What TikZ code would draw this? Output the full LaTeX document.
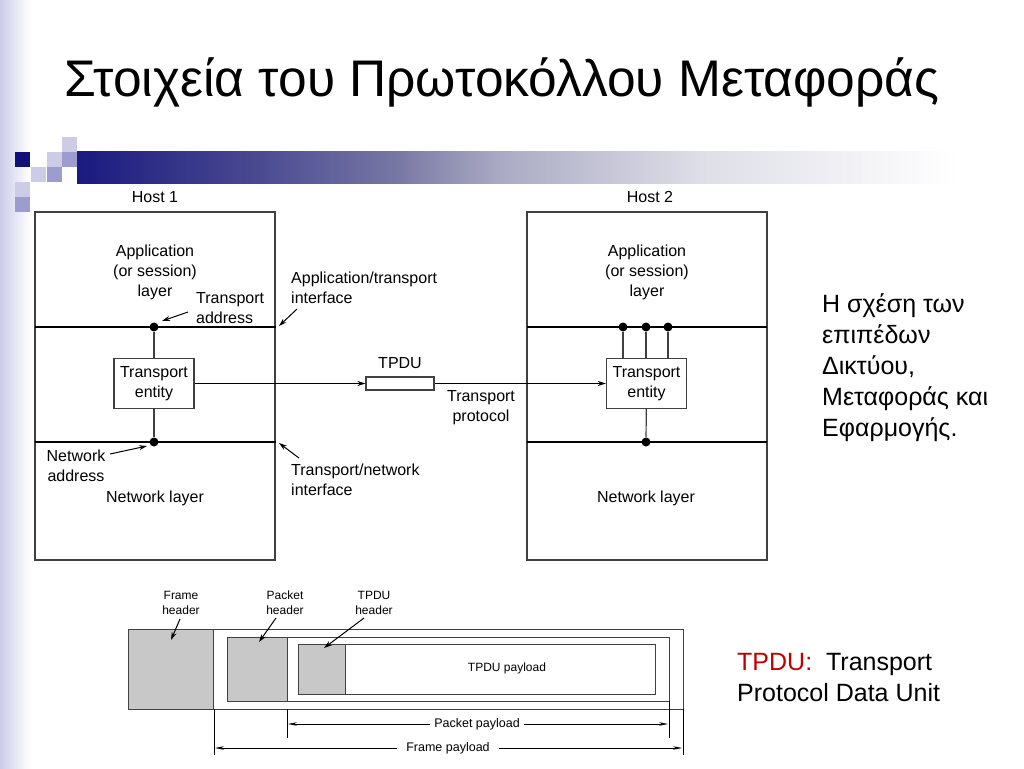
\documentclass[tikz,border=0pt]{standalone}
\usepackage{fontspec}
\setmainfont{Liberation Sans}
\usepackage{tikz}
\usetikzlibrary{arrows.meta,positioning}
\definecolor{stripblue}{RGB}{204,204,232}
\definecolor{bandnavy}{RGB}{26,26,128}
\definecolor{bandA}{RGB}{72,72,145}
\definecolor{bandB}{RGB}{120,120,165}
\definecolor{bandC}{RGB}{170,170,195}
\definecolor{bandD}{RGB}{222,222,232}
\definecolor{sqdark}{RGB}{16,16,122}
\definecolor{sqlight}{RGB}{204,204,230}
\definecolor{sqmid}{RGB}{156,156,206}
\definecolor{linegray}{RGB}{64,64,64}
\definecolor{hdrgray}{RGB}{200,200,200}
\definecolor{tpdured}{RGB}{192,0,0}
\pgfdeclarehorizontalshading{bandshade}{100bp}{color(0bp)=(bandnavy); color(25bp)=(bandnavy);
  color(34.5bp)=(bandA); color(42.5bp)=(bandB); color(48bp)=(bandC); color(59bp)=(bandD);
  color(73bp)=(white); color(100bp)=(white)}
\tikzset{
  titletext/.style = {font=\fontsize{51.5}{60}\selectfont, inner sep=0pt},
  labeltext/.style = {font=\fontsize{16}{20}\selectfont, align=center, inner sep=0pt},
  smalltext/.style = {font=\fontsize{12}{15}\selectfont, align=center, inner sep=0pt},
  notetext/.style = {font=\fontsize{25}{31}\selectfont, align=left, inner sep=0pt},
  hostbox/.style = {draw=linegray, line width=1.4pt},
  layerline/.style = {draw=black, line width=1.3pt},
  entitybox/.style = {draw=linegray, line width=1.2pt, fill=white, minimum width=80pt, minimum height=50pt, inner sep=0pt, align=center, font=\fontsize{16}{20}\selectfont},
  pdubox/.style = {draw=linegray, line width=1.1pt, fill=white, minimum width=68pt, minimum height=13pt, inner sep=0pt},
  sap/.style = {circle, fill=black, inner sep=0pt, minimum size=9pt},
  link/.style = {draw=linegray, line width=1.2pt},
  pointer/.style = {-{Stealth[length=8pt,width=5pt]}, line width=1pt},
  hdrbox/.style = {draw=linegray, fill=hdrgray, line width=0.9pt},
  framebox/.style = {draw=linegray, line width=0.9pt},
  dimline/.style = {{Stealth[length=9pt,width=3.5pt]}-{Stealth[length=9pt,width=3.5pt]}, line width=0.7pt},
  dimtick/.style = {line width=0.7pt},
}
\begin{document}
\begin{tikzpicture}[x=1pt,y=-1pt]
\useasboundingbox (0,0) rectangle (1024,768);

% Slide decoration
\shade[left color=stripblue, right color=white] (0,0) rectangle (30,768);
\shade[shading=bandshade] (77,151) rectangle (995,183);
\foreach \x/\y/\c in {15/152/sqdark, 62/137/sqlight, 47/152/sqlight, 62/152/sqmid,
                      31/167/sqlight, 47/167/sqmid, 15/182/sqlight, 15/197/sqmid}
  \fill[\c] (\x,\y) rectangle ++(15,15);
\node[titletext, anchor=base west] (title) at (64,96) {Στοιχεία του Πρωτοκόλλου Μεταφοράς};

% Host 1
\begin{scope}
  \node[labeltext] (host1) at (155,197) {Host 1};
  \draw[hostbox] (35,212) rectangle (275,560);
  \draw[layerline] (35,327) -- (276,327);
  \draw[layerline] (35,442) -- (276,442);
  \node[labeltext] (app1) at (155,272) {Application\\(or session)\\layer};
  \node[sap] (tsap1) at (154,327) {};
  \node[entitybox] (ent1) at (154,383.5) {Transport\\entity};
  \node[sap] (nsap1) at (154,442) {};
  \draw[link] (tsap1) -- (ent1);
  \draw[link] (ent1) -- (nsap1);
  \node[labeltext, align=left, anchor=west] (taddr) at (196,308) {Transport\\address};
  \coordinate (taddrtail) at (188,312);
  \coordinate (taddrtip) at (162,321);
  \draw[pointer] (taddrtail) -- (taddrtip);
  \node[labeltext] (naddr) at (76,465.5) {Network\\address};
  \coordinate (naddrtail) at (110,454);
  \coordinate (naddrtip) at (147,446);
  \draw[pointer] (naddrtail) -- (naddrtip);
  \node[labeltext] (net1) at (155,498) {Network layer};
\end{scope}

% Interfaces
\node[labeltext, align=left, anchor=west] (atif) at (291,287.5) {Application/transport\\interface};
\coordinate (atiftail) at (297,309);
\coordinate (atiftip) at (279,326);
\draw[pointer] (atiftail) -- (atiftip);
\node[labeltext, align=left, anchor=west] (tnif) at (291,480) {Transport/network\\interface};
\coordinate (tniftail) at (299,458);
\coordinate (tniftip) at (279,443);
\draw[pointer] (tniftail) -- (tniftip);

% TPDU on the wire
\node[pdubox] (tpdu) at (400,383.5) {};
\node[labeltext] (tpdulab) at (400,363) {TPDU};
\node[labeltext] (tproto) at (481,408) {Transport\\protocol};

% Host 2
\begin{scope}
  \node[labeltext] (host2) at (650,197) {Host 2};
  \draw[hostbox] (527,212) rectangle (767,560);
  \draw[layerline] (527,327) -- (767,327);
  \draw[layerline] (527,442) -- (767,442);
  \node[labeltext] (app2) at (647,272) {Application\\(or session)\\layer};
  \node[entitybox] (ent2) at (646.5,383.5) {Transport\\entity};
  \foreach \n/\x in {a/623, b/646, c/668} {
    \node[sap] (tsap2\n) at (\x,327) {};
    \draw[link] (tsap2\n) -- (tsap2\n |- ent2.north);
  }
  \node[sap] (nsap2) at (646,442) {};
  \draw[link] (ent2) -- (nsap2);
  \node[labeltext] (net2) at (646,498) {Network layer};
\end{scope}

\draw[pointer] (ent1.east) -- (tpdu.west);
\draw[pointer] (tpdu.east) -- (ent2.west);

% Side notes
\node[notetext, anchor=north west] (note) at (822,293) {Η σχέση των\\επιπέδων\\Δικτύου,\\Μεταφοράς και\\Εφαρμογής.};
\node[notetext, anchor=north west] (tpdudef) at (737,653) {\textcolor{tpdured}{TPDU:}\ \ Transport\\Protocol Data Unit};

% Frame / packet / TPDU nesting
\draw[framebox] (128,629) rectangle (683,709);
\draw[hdrbox] (128,629) rectangle (213,709);
\draw[framebox] (227,637) rectangle (669,701);
\draw[hdrbox] (227,637) rectangle (287,701);
\draw[framebox] (298,644) rectangle (655,694);
\draw[hdrbox] (298,644) rectangle (345,694);
\node[smalltext] (tpay) at (507,668) {TPDU payload};

\node[smalltext] (fhlab) at (181,602.5) {Frame\\header};
\coordinate (fhtail) at (180,619);
\coordinate (fhtip) at (171,640);
\draw[pointer] (fhtail) -- (fhtip);
\node[smalltext] (phlab) at (285,602.5) {Packet\\header};
\coordinate (phtail) at (276,618);
\coordinate (phtip) at (259,642);
\draw[pointer] (phtail) -- (phtip);
\node[smalltext] (thlab) at (374,602.5) {TPDU\\header};
\coordinate (thtail) at (364,618);
\coordinate (thtip) at (324,648);
\draw[pointer] (thtail) -- (thtip);

% Payload dimensions
\draw[dimtick] (287,709) -- (287,738);
\draw[dimtick] (669,701) -- (669,738);
\coordinate (ppl) at (288,724);
\coordinate (ppr) at (668,724);
\draw[dimline] (ppl) -- (ppr);
\node[smalltext, fill=white, inner xsep=4pt, inner ysep=1pt, font=\fontsize{12.5}{15}\selectfont] (pplab) at (477,724) {Packet payload};
\draw[dimtick] (214,709) -- (214,755);
\draw[dimtick] (683,709) -- (683,755);
\coordinate (fpl) at (215,748);
\coordinate (fpr) at (682,748);
\draw[dimline] (fpl) -- (fpr);
\node[smalltext, fill=white, inner xsep=9pt, inner ysep=1pt, font=\fontsize{12.5}{15}\selectfont] (fplab) at (448,748) {Frame payload};

\end{tikzpicture}
\end{document}
